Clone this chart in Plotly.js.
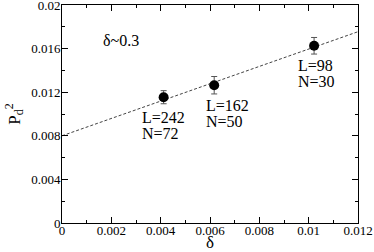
<!DOCTYPE html>
<html><head><meta charset="utf-8">
<script src="https://cdn.plot.ly/plotly-3.0.1.min.js"></script>
<style>html,body{margin:0;padding:0;background:#fff}</style>
</head><body><div id="plot" style="width:374px;height:252px"></div>
<script>
const delta = [0.00412, 0.00617, 0.01022];
const pd2 = [0.01154, 0.01264, 0.01626];
const pd2Err = [0.0006, 0.0008, 0.00076];
const labelsL = ["L=242", "L=162", "L=98"];
const labelsN = ["N=72", "N=50", "N=30"];
const fitX = [0, 0.012];
const fitY = [0.0080, 0.01755];
const xTicks = [0, 0.002, 0.004, 0.006, 0.008, 0.01, 0.012];
const xTickText = ["0", "0.002", "0.004", "0.006", "0.008", "0.01", "0.012"];
const yTicks = [0, 0.004, 0.008, 0.012, 0.016, 0.02];
const yTickText = ["0", "0.004", "0.008", "0.012", "0.016", "0.02"];
const xTitle = "δ";

const fam = "'Liberation Serif', 'Times New Roman', serif";
const F = (s) => ({family: fam, size: s, color: "#000"});
const traces = [
  {x: fitX, y: fitY, mode: "lines", line: {color: "#444", width: 1, dash: "3px,2px"}, hoverinfo: "skip"},
  {x: delta, y: pd2, mode: "markers", marker: {color: "#000", size: 10},
   error_y: {type: "data", array: pd2Err, visible: true, color: "#555", thickness: 1, width: 3}}
];
const labelXShift = [-23, -9, -17];
const annotations = [
  {xref: "paper", yref: "paper", x: (102 - 62) / 296, y: (223 - 40) / 218, text: "δ~0.3", showarrow: false,
   font: F(16), xanchor: "left", yanchor: "middle", borderpad: 0},
  {xref: "paper", yref: "paper", x: 0.5, y: (223 - 243) / 218, text: xTitle, showarrow: false,
   font: F(17), xanchor: "center", yanchor: "middle", borderpad: 0}
];
delta.forEach((d, i) => {
  annotations.push({x: d, y: pd2[i], xref: "x", yref: "y", text: labelsL[i], showarrow: false,
    xanchor: "left", yanchor: "middle", xshift: labelXShift[i], yshift: -20, font: F(16), borderpad: 0});
  annotations.push({x: d, y: pd2[i], xref: "x", yref: "y", text: labelsN[i], showarrow: false,
    xanchor: "left", yanchor: "middle", xshift: labelXShift[i], yshift: -36, font: F(16), borderpad: 0});
});
const axisCommon = {showline: true, linecolor: "#000", linewidth: 1, mirror: "ticks", ticks: "inside",
  ticklen: 6, tickwidth: 1, tickcolor: "#000", showgrid: false, zeroline: false, tickfont: F(13),
  automargin: false};
const layout = {
  width: 374, height: 252, margin: {l: 62, r: 16, t: 5, b: 29, autoexpand: false},
  paper_bgcolor: "#fff", plot_bgcolor: "#fff", showlegend: false,
  xaxis: Object.assign({}, axisCommon, {range: [0, 0.012], tickmode: "array", tickvals: xTicks, ticktext: xTickText,
    ticklabelstandoff: -5,
    minor: {dtick: 0.001, tick0: 0, ticks: "inside", ticklen: 3, tickcolor: "#000"}}),
  yaxis: Object.assign({}, axisCommon, {range: [0, 0.02], tickmode: "array", tickvals: yTicks, ticktext: yTickText,
    ticklabelstandoff: -2, ticklabeloverflow: "allow",
    minor: {dtick: 0.002, tick0: 0, ticks: "inside", ticklen: 3, tickcolor: "#000"},
    title: {text: "P<sub>d</sub><sup>2</sup>", font: F(17), standoff: 6}}),
  annotations: annotations
};
Plotly.newPlot("plot", traces, layout, {displayModeBar: false, staticPlot: true});
</script></body></html>
